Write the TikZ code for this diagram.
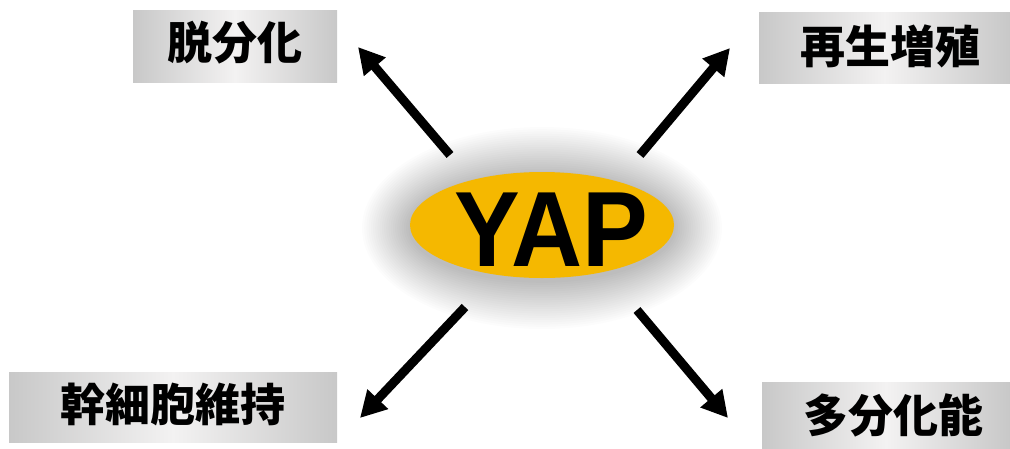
\documentclass[tikz,border=0pt]{standalone}
\usepackage{fontspec}
\setmainfont{Liberation Sans}
\newfontfamily\cjk{Noto Sans CJK JP}
\usetikzlibrary{arrows.meta}
\definecolor{gold}{RGB}{245,184,0}
\definecolor{boxside}{RGB}{200,200,200}
\definecolor{boxmid}{RGB}{243,242,242}
\begin{document}
\begin{tikzpicture}[x=1pt,y=-1pt,
  lbl/.style={inner sep=0pt, font=\cjk\bfseries\fontsize{45}{45}\selectfont, text=black},
  boxbg/.style={left color=boxside, right color=boxside, middle color=boxmid, draw=none},
  arr/.style={line width=9pt, draw=black, -{Triangle[length=26pt,width=27pt]}}]
\useasboundingbox (0,0) rectangle (1010,448);
\fill[white] (0,0) rectangle (1010,448);
% label boxes
\shade[boxbg] (133,10) rectangle (337,82);
\shade[boxbg] (759,12) rectangle (1010,83);
\shade[boxbg] (9,372) rectangle (337,442);
\shade[boxbg] (762,382) rectangle (1010,448);
\node[lbl] (ul) at (235,43) {脱分化};
\node[lbl] (ur) at (890,46) {再生増殖};
\node[lbl] (ll) at (173,404) {幹細胞維持};
\node[lbl] (lr) at (893,415) {多分化能};
% glow
\foreach \i in {0,...,21}
  \fill[black, opacity=0.013] (542,228) ellipse [x radius={(132+48-\i*2.2)*1pt}, y radius={(53+48-\i*2.2)*1pt}];
\fill[gold] (542,225) ellipse [x radius=132pt, y radius=53pt];
\node[inner sep=0pt, font=\bfseries\fontsize{107}{107}\selectfont, xscale=0.92] (yap) at (551,230) {YAP};
% arrow coordinates
\coordinate (ult) at (450,155);
\coordinate (ulh) at (358,47);
\coordinate (urt) at (640,155);
\coordinate (urh) at (730,48);
\coordinate (llt) at (465,307);
\coordinate (llh) at (360,418);
\coordinate (lrt) at (637,310);
\coordinate (lrh) at (728,418);
\draw[arr] (ult) -- (ulh);
\draw[arr] (urt) -- (urh);
\draw[arr] (llt) -- (llh);
\draw[arr] (lrt) -- (lrh);
\end{tikzpicture}
\end{document}
